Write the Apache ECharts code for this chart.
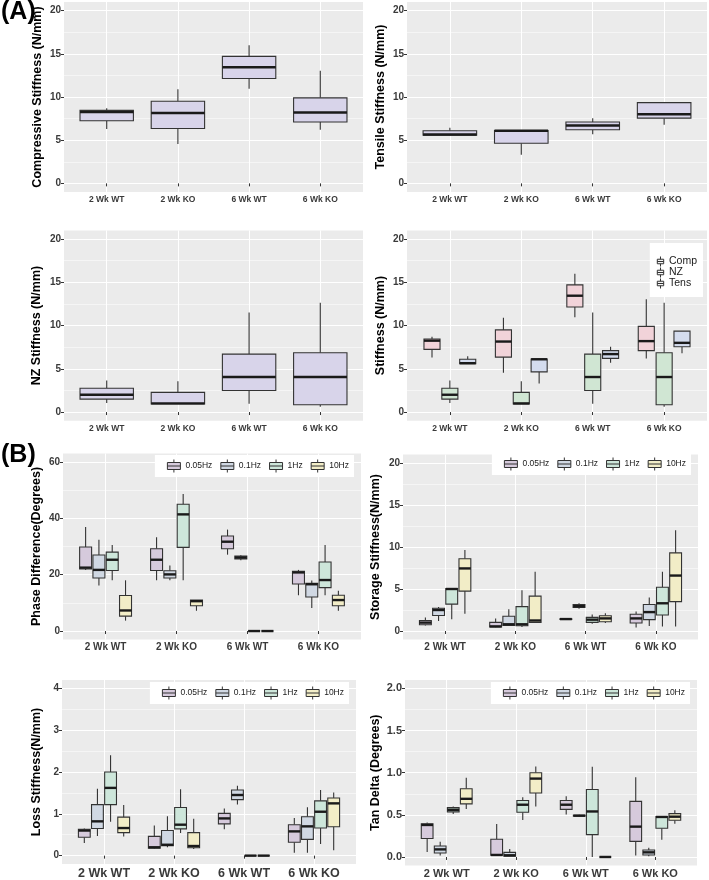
<!DOCTYPE html>
<html>
<head>
<meta charset="utf-8">
<script src="https://cdn.jsdelivr.net/npm/echarts@6/dist/echarts.min.js"></script>
<style>
  html, body { margin: 0; padding: 0; background: #fff; }
  #chart { width: 709px; height: 880px; }
</style>
</head>
<body>
<div id="chart"></div>
<script>
// ---- data: each row is [min, Q1, median, Q3, max] for one group ----
const categories = ['2 Wk WT', '2 Wk KO', '6 Wk WT', '6 Wk KO'];
const freqs = ['0.05Hz', '0.1Hz', '1Hz', '10Hz'];

const compStiff = [[6.3, 7.25, 8.25, 8.45, 8.7], [4.55, 6.35, 8.15, 9.5, 10.9], [10.95, 12.15, 13.45, 14.7, 16.0], [6.2, 7.1, 8.2, 9.9, 13.05]];
const tensStiff = [[5.55, 5.58, 5.65, 6.1, 6.45], [3.3, 4.65, 6.1, 6.12, 6.15], [5.7, 6.2, 6.7, 7.1, 7.55], [6.8, 7.55, 8.0, 9.35, 9.35]];
const nzStiff = [[1.05, 1.5, 2.0, 2.75, 3.65], [0.92, 0.95, 1.0, 2.27, 3.55], [0.95, 2.5, 4.05, 6.7, 11.5], [0.6, 0.85, 4.05, 6.85, 12.65]];

const phase005 = [[21.7, 22.0, 22.5, 29.8, 36.9], [18.0, 21.5, 25.3, 29.2, 33.3], [27.1, 29.2, 31.7, 33.7, 36.0], [12.7, 16.7, 20.8, 21.2, 21.7]];
const phase01 = [[16.2, 18.8, 21.7, 27.0, 32.4], [18.0, 18.8, 20.1, 21.4, 23.3], [25.1, 25.6, 26.1, 26.6, 26.9], [8.2, 12.1, 16.6, 16.9, 17.9]];
const phase1 = [[18.0, 21.5, 25.3, 28.0, 30.5], [18.0, 29.7, 41.4, 45.0, 48.6], [0, 0, 0, 0, 0], [12.7, 15.4, 18.1, 24.5, 30.5]];
const phase10 = [[3.7, 5.3, 7.3, 12.6, 18.0], [7.2, 9.0, 10.6, 11.0, 11.0], [0, 0, 0, 0, 0], [7.2, 9.0, 11.0, 12.7, 14.3]];

const storage005 = [[0.65, 0.75, 1.0, 1.25, 1.6], [0.45, 0.47, 0.55, 1.03, 1.5], [1.35, 1.38, 1.42, 1.45, 1.5], [0.43, 0.95, 1.5, 2.0, 2.33]];
const storage01 = [[1.2, 1.85, 2.5, 2.7, 2.85], [0.6, 0.67, 0.8, 1.75, 2.6], [2.65, 2.8, 2.95, 3.15, 3.3], [0.6, 1.35, 2.25, 3.15, 4.0]];
const storage1 = [[1.4, 3.2, 5.0, 5.06, 5.06], [0.47, 0.63, 0.8, 2.9, 4.85], [0.87, 1.03, 1.35, 1.62, 1.95], [0.55, 1.9, 3.3, 5.2, 7.05]];
const storage10 = [[2.05, 4.75, 7.45, 8.6, 9.65], [0.95, 1.03, 1.25, 4.15, 7.05], [0.95, 1.1, 1.5, 1.82, 2.1], [0.55, 3.5, 6.6, 9.3, 12.0]];

const loss005 = [[0.3, 0.44, 0.6, 0.63, 0.65], [0.17, 0.18, 0.2, 0.46, 0.72], [0.63, 0.76, 0.89, 1.01, 1.13], [0.07, 0.32, 0.58, 0.74, 0.9]];
const loss01 = [[0.47, 0.65, 0.82, 1.22, 1.6], [0.2, 0.24, 0.26, 0.6, 0.94], [1.22, 1.34, 1.45, 1.57, 1.67], [0.07, 0.39, 0.7, 0.93, 1.16]];
const loss1 = [[0.81, 1.22, 1.62, 2.0, 2.4], [0.54, 0.64, 0.74, 1.15, 1.59], [0, 0, 0, 0, 0], [0.28, 0.66, 1.05, 1.31, 1.57]];
const loss10 = [[0.46, 0.55, 0.66, 0.92, 1.21], [0.16, 0.19, 0.23, 0.55, 0.88], [0, 0, 0, 0, 0], [0.13, 0.69, 1.25, 1.38, 1.51]];

const tan005 = [[0.06, 0.22, 0.38, 0.395, 0.41], [0.02, 0.02, 0.024, 0.21, 0.39], [0.505, 0.565, 0.62, 0.67, 0.72], [0.016, 0.185, 0.36, 0.66, 0.945]];
const tan01 = [[0.016, 0.047, 0.09, 0.13, 0.18], [0.008, 0.01, 0.02, 0.055, 0.095], [0.48, 0.485, 0.49, 0.495, 0.5], [0.008, 0.024, 0.055, 0.083, 0.11]];
const tan1 = [[0.51, 0.535, 0.56, 0.585, 0.6], [0.44, 0.53, 0.62, 0.67, 0.71], [0.0, 0.265, 0.54, 0.8, 1.07], [0.205, 0.34, 0.475, 0.48, 0.48]];
const tan10 = [[0.57, 0.63, 0.69, 0.81, 0.94], [0.6, 0.76, 0.93, 1.0, 1.075], [0, 0, 0, 0, 0], [0.395, 0.435, 0.478, 0.514, 0.553]];

const stiffTicks = [0, 5, 10, 15, 20];
const phaseTicks = [0, 20, 40, 60];
const lossTicks = [0, 1, 2, 3, 4];
const tanTicks = [0, 0.5, 1, 1.5, 2];

// ---- styles ----
const FONT = '"Liberation Sans", Arial, sans-serif';
const W = 709, H = 880;
const lavender = '#d8d4ea';
const freqColors = ['#d6cadc', '#d0d8e3', '#cde6da', '#f2edc7'];
const combColors = ['#f1d3d9', '#d0e6d3', '#d4dcee'];
const boxIcon = 'path://M0,3L13,3L13,10L0,10Z M0,6.5L13,6.5 M6.5,0L6.5,3 M6.5,10L6.5,13';
const smallIcon = 'path://M0,3L7,3L7,8L0,8Z M0,5.5L7,5.5 M3.5,0L3.5,3 M3.5,8L3.5,11';

function boxRenderer(width) {
  return function (params, api) {
    const x = api.value(0);
    const lo = api.coord([x, api.value(1)]);
    const q1 = api.coord([x, api.value(2)]);
    const md = api.coord([x, api.value(3)]);
    const q3 = api.coord([x, api.value(4)]);
    const hi = api.coord([x, api.value(5)]);
    const half = api.size([width, 0])[0] / 2;
    const cx = md[0];
    const ln = { stroke: '#333', lineWidth: 1.1 };
    return {
      type: 'group',
      children: [
        { type: 'line', shape: { x1: cx, y1: hi[1], x2: cx, y2: q3[1] }, style: ln },
        { type: 'line', shape: { x1: cx, y1: q1[1], x2: cx, y2: lo[1] }, style: ln },
        { type: 'rect', shape: { x: cx - half, y: q3[1], width: half * 2, height: q1[1] - q3[1] },
          style: { fill: api.visual('color'), stroke: '#333', lineWidth: 1.1 } },
        { type: 'line', shape: { x1: cx - half, y1: md[1], x2: cx + half, y2: md[1] },
          style: { stroke: '#1a1a1a', lineWidth: 2.4 } }
      ]
    };
  };
}

// panel layout: plot box in pixels, y range, groups
const panels = [
  { title: 'Compressive Stiffness (N/mm)', x: [64, 363], y: [2, 192], range: [-1, 21], ticks: stiffTicks, gap: 20,
    xFont: 8.5, yFont: 10, groups: [['Compressive', compStiff, lavender]] },
  { title: 'Tensile Stiffness (N/mm)', x: [407, 707], y: [2, 192], range: [-1, 21], ticks: stiffTicks, gap: 20,
    xFont: 8.5, yFont: 10, groups: [['Tensile', tensStiff, lavender]] },
  { title: 'NZ Stiffness (N/mm)', x: [64, 363], y: [230.4, 420.7], range: [-1, 21], ticks: stiffTicks, gap: 21,
    xFont: 8.5, yFont: 10, groups: [['NZ Stiffness', nzStiff, lavender]] },
  { title: 'Stiffness (N/mm)', x: [407, 707], y: [230.4, 420.7], range: [-1, 21], ticks: stiffTicks, gap: 20,
    xFont: 8.5, yFont: 10, groups: [['Comp', compStiff, combColors[0]], ['NZ', nzStiff, combColors[1]], ['Tens', tensStiff, combColors[2]]],
    legend: 'comb' },
  { title: 'Phase Difference(Degrees)', x: [63, 361], y: [453.5, 639.5], range: [-3, 63], ticks: phaseTicks, gap: 20,
    xFont: 10, yFont: 10, groups: [[freqs[0], phase005], [freqs[1], phase01], [freqs[2], phase1], [freqs[3], phase10]],
    legend: 'freq', legendTop: 455 },
  { title: 'Storage Stiffness(N/mm)', x: [403, 698], y: [454.6, 639.4], range: [-1, 21], ticks: stiffTicks, gap: 21,
    xFont: 10, yFont: 10, groups: [[freqs[0], storage005], [freqs[1], storage01], [freqs[2], storage1], [freqs[3], storage10]],
    legend: 'freq', legendTop: 453 },
  { title: 'Loss Stiffness(N/mm)', x: [62, 356], y: [680, 865.4], range: [-0.2, 4.2], ticks: lossTicks, gap: 19,
    xFont: 12.5, yFont: 10, groups: [[freqs[0], loss005], [freqs[1], loss01], [freqs[2], loss1], [freqs[3], loss10]],
    legend: 'freq', legendTop: 682 },
  { title: 'Tan Delta (Degrees)', x: [405, 697], y: [680, 865.4], range: [-0.1, 2.1], ticks: tanTicks, gap: 23,
    xFont: 11, yFont: 11, fmt: v => v.toFixed(1),
    groups: [[freqs[0], tan005], [freqs[1], tan01], [freqs[2], tan1], [freqs[3], tan10]],
    legend: 'freq', legendTop: 682 }
];

const grids = [], xAxes = [], yAxes = [], series = [], legends = [];
const catTicks = categories.map((c, i) => i + 1);

panels.forEach((p, i) => {
  grids.push({
    left: p.x[0], right: W - p.x[1], top: p.y[0], bottom: H - p.y[1],
    show: true, backgroundColor: '#ebebeb', borderWidth: 0
  });
  xAxes.push({
    type: 'value', gridIndex: i, min: 0.4, max: 4.6,
    axisLine: { show: false },
    axisTick: { show: true, length: 3, customValues: catTicks, lineStyle: { color: '#333', width: 1 } },
    axisLabel: { customValues: catTicks, formatter: v => categories[Math.round(v) - 1], margin: 3,
      fontFamily: FONT, fontSize: p.xFont, fontWeight: 'bold', color: '#3a3a3a' },
    splitLine: { show: true, customValues: catTicks, lineStyle: { color: '#fff', width: 1.1 } }
  });
  const minor = p.ticks.slice(1).map((t, k) => (t + p.ticks[k]) / 2);
  yAxes.push({
    type: 'value', gridIndex: i, min: p.range[0], max: p.range[1],
    name: p.title, nameLocation: 'middle', nameGap: p.gap,
    nameTextStyle: { fontFamily: FONT, fontSize: 12.5, fontWeight: 'bold', color: '#000' },
    axisLine: { show: false },
    axisTick: { show: true, length: 3, customValues: p.ticks, lineStyle: { color: '#333', width: 1 } },
    axisLabel: { customValues: p.ticks, formatter: p.fmt || (v => String(v)), margin: 3,
      fontFamily: FONT, fontSize: p.yFont, fontWeight: 'bold', color: '#3a3a3a' },
    splitLine: { show: true, customValues: p.ticks, lineStyle: { color: '#fff', width: 1.1 } }
  });
  yAxes.push({
    type: 'value', gridIndex: i, min: p.range[0], max: p.range[1],
    axisLine: { show: false },
    axisTick: { show: false, customValues: minor },
    axisLabel: { show: false, customValues: minor },
    splitLine: { show: true, customValues: minor, lineStyle: { color: '#fff', width: 0.5 } }
  });

  const n = p.groups.length;
  const slot = 0.75 / n;
  const boxW = n === 1 ? 0.75 : slot * 0.9;
  p.groups.forEach((g, k) => {
    const off = (k - (n - 1) / 2) * slot;
    const color = g[2] || freqColors[k];
    series.push({
      type: 'custom', name: g[0], xAxisIndex: i, yAxisIndex: 2 * i,
      renderItem: boxRenderer(boxW),
      itemStyle: { color: color, borderColor: '#333', borderWidth: 1 },
      encode: { x: 0, y: [1, 2, 3, 4, 5] },
      data: g[1].map((v, c) => [c + 1 + off].concat(v)),
      z: 3
    });
  });

  if (p.legend === 'freq') {
    legends.push({
      orient: 'horizontal', right: W - p.x[1] + 7, top: p.legendTop,
      data: freqs.map(f => ({ name: f, icon: boxIcon })),
      itemWidth: 13, itemHeight: 13, itemGap: 8, padding: [4, 5, 4, 12],
      backgroundColor: '#fff', selectedMode: false,
      itemStyle: { borderColor: '#333', borderWidth: 1 },
      textStyle: { fontFamily: FONT, fontSize: 8.5, color: '#1a1a1a' }
    });
  } else if (p.legend === 'comb') {
    legends.push({
      orient: 'vertical', right: 6, top: 243,
      data: p.groups.map(g => ({ name: g[0], icon: smallIcon })),
      itemWidth: 7, itemHeight: 10, itemGap: 0, padding: [13, 6, 8, 7],
      backgroundColor: '#fff', selectedMode: false,
      itemStyle: { color: '#f4f4f4', borderColor: '#333', borderWidth: 1 },
      textStyle: { fontFamily: FONT, fontSize: 10.5, color: '#1a1a1a' }
    });
  }
});

const chart = echarts.init(document.getElementById('chart'), null, { renderer: 'canvas' });
chart.setOption({
  backgroundColor: '#fff',
  animation: false,
  title: [
    { text: '(A)', left: 1, top: 0, padding: 0, textStyle: { fontFamily: FONT, fontSize: 25, fontWeight: 'bold', color: '#000' } },
    { text: '(B)', left: 1, top: 443, padding: 0, textStyle: { fontFamily: FONT, fontSize: 25, fontWeight: 'bold', color: '#000' } }
  ],
  grid: grids,
  xAxis: xAxes,
  yAxis: yAxes,
  legend: legends,
  series: series
});
</script>
</body>
</html>
